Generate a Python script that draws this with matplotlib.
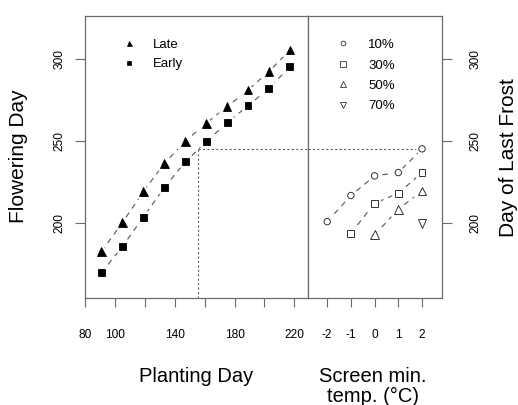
import numpy as np
import matplotlib
matplotlib.use("Agg")
import matplotlib.pyplot as plt
from matplotlib.lines import Line2D
import matplotlib.patheffects as pe

plt.rcParams['font.family'] = ['Liberation Sans', 'DejaVu Sans']

# ---------------- data ----------------
planting_day = [91, 105, 119, 133, 147, 161, 175, 189, 203, 217]
late = [182.3, 200.0, 218.9, 236.0, 249.6, 260.6, 270.7, 280.9, 292.1, 305.3]
early = [169.5, 185.4, 203.3, 221.3, 237.0, 249.2, 261.0, 271.2, 282.0, 295.0]

temp = [-2, -1, 0, 1, 2]
p10 = [200.6, 216.5, 228.5, 230.5, 245.0]
p30 = [np.nan, 193.5, 211.8, 217.9, 230.5]
p50 = [np.nan, np.nan, 192.5, 208.2, 219.3]
p70 = [np.nan, np.nan, np.nan, np.nan, 199.2]
pct_labels = ['10%', '30%', '50%', '70%']

frost_day = 245
planting_at_frost = 155.8

x1_ticks = [80, 100, 120, 140, 160, 180, 200, 220]
x1_ticklabels = ['80', '100', '', '140', '', '180', '', '220']
x2_ticks = [-2, -1, 0, 1, 2]
x2_ticklabels = ['-2', '-1', '0', '1', '2']
y_ticks = [200, 250, 300]
y_ticklabels = ['200', '250', '300']

# ---------------- figure ----------------
W, H = 518, 405
fig = plt.figure(figsize=(W / 100, H / 100), dpi=100)
ax1 = fig.add_axes([85 / W, 107 / H, 223 / W, 282.3 / H])
ax2 = fig.add_axes([308 / W, 107 / H, 133.7 / W, 282.3 / H], sharey=ax1)

spine_col = '#6b6b6b'
line_col = '#555555'
halo = [pe.withStroke(linewidth=4, foreground='white')]
dash = (0, (5, 4.5))

# left panel
ax1.plot(planting_day, late, color=line_col, lw=0.8, ls=dash, zorder=2)
ax1.plot(planting_day, early, color=line_col, lw=0.8, ls=dash, zorder=2)
ax1.plot(planting_day, late, ls='none', marker='^', ms=6.3, mfc='black',
         mec='black', mew=0.6, path_effects=halo, zorder=4)
ax1.plot(planting_day, early, ls='none', marker='s', ms=5.0, mfc='black',
         mec='black', mew=0.6, path_effects=halo, zorder=4)

ax1.set_xlim(80.5, 229.1)
ax1.set_ylim(154, 326.2)

ax1.vlines(planting_at_frost, ax1.get_ylim()[0], frost_day, color=line_col,
           lw=0.8, ls=(0, (1.8, 2.2)), zorder=1)
ax1.hlines(frost_day, planting_at_frost, ax1.get_xlim()[1], color=line_col,
           lw=0.8, ls=(0, (1.8, 2.2)), zorder=1)

# right panel
series = [(p10, 'o', 4.6), (p30, 's', 5.0), (p50, '^', 6.4), (p70, 'v', 6.4)]
for vals, mk, ms in series:
    ax2.plot(temp, vals, color=line_col, lw=0.8, ls=dash, zorder=2)
    ax2.plot(temp, vals, ls='none', marker=mk, ms=ms, mfc='white',
             mec='#333333', mew=0.7, path_effects=halo, zorder=4)

ax2.set_xlim(-2.81, 2.83)
ax2.hlines(frost_day, ax2.get_xlim()[0], temp[-1], color=line_col,
           lw=0.8, ls=(0, (1.8, 2.2)), zorder=1)

# ticks
for ax in (ax1, ax2):
    for s in ax.spines.values():
        s.set_color(spine_col)
        s.set_linewidth(0.9)
    ax.tick_params(axis='x', direction='out', length=6.5, width=0.8,
                   color=spine_col, pad=15.5, labelsize=8.6)

ax1.set_xticks(x1_ticks)
ax1.set_xticklabels(x1_ticklabels)
ax2.set_xticks(x2_ticks)
ax2.set_xticklabels(x2_ticklabels)

ax1.set_yticks(y_ticks)
ax1.set_yticklabels(y_ticklabels)
ax1.tick_params(axis='y', direction='out', length=7.2, width=0.8,
                color=spine_col, pad=7, labelsize=8.6, labelrotation=90)
ax2.tick_params(axis='y', left=False, labelleft=False, right=True,
                labelright=True, direction='out', length=7.2, width=0.8,
                color=spine_col, pad=13, labelsize=8.6, labelrotation=90)
for lbl in ax1.get_yticklabels() + ax2.get_yticklabels():
    lbl.set_verticalalignment('center')

# legends
h_left = [Line2D([], [], ls='none', marker='^', ms=3.6, mfc='black', mec='black', mew=0.5),
          Line2D([], [], ls='none', marker='s', ms=3.0, mfc='black', mec='black', mew=0.5)]
leg1 = ax1.legend(h_left, ['Late', 'Early'], loc='upper left',
                  bbox_to_anchor=(0.169, 0.918), frameon=False, fontsize=9.5,
                  handlelength=1.0, handletextpad=1.27, labelspacing=0.53,
                  borderpad=0, borderaxespad=0)

h_right = [Line2D([], [], ls='none', marker='o', ms=3.4, mfc='white', mec='#333333', mew=0.6),
           Line2D([], [], ls='none', marker='s', ms=3.8, mfc='white', mec='#333333', mew=0.6),
           Line2D([], [], ls='none', marker='^', ms=4.6, mfc='white', mec='#333333', mew=0.6),
           Line2D([], [], ls='none', marker='v', ms=4.6, mfc='white', mec='#333333', mew=0.6)]
ax2.legend(h_right, pct_labels, loc='upper left', bbox_to_anchor=(0.21, 0.918),
           frameon=False, fontsize=9.5, handlelength=1.0, handletextpad=1.44,
           labelspacing=0.62, borderpad=0, borderaxespad=0)

# axis titles
fig.text(19 / W, 1 - 156.5 / H, 'Flowering Day', rotation=90, ha='center',
         va='center', fontsize=15)
fig.text(509 / W, 1 - 158 / H, 'Day of Last Frost', rotation=90, ha='center',
         va='center', fontsize=15)
fig.text(196 / W, 1 - 376 / H, 'Planting Day', ha='center', va='center', fontsize=14.5)
fig.text(373 / W, 1 - 376 / H, 'Screen min.', ha='center', va='center', fontsize=14.5)
fig.text(373 / W, 1 - 396 / H, 'temp. (°C)', ha='center', va='center', fontsize=14.5)

fig.savefig('out.png', dpi=100)
